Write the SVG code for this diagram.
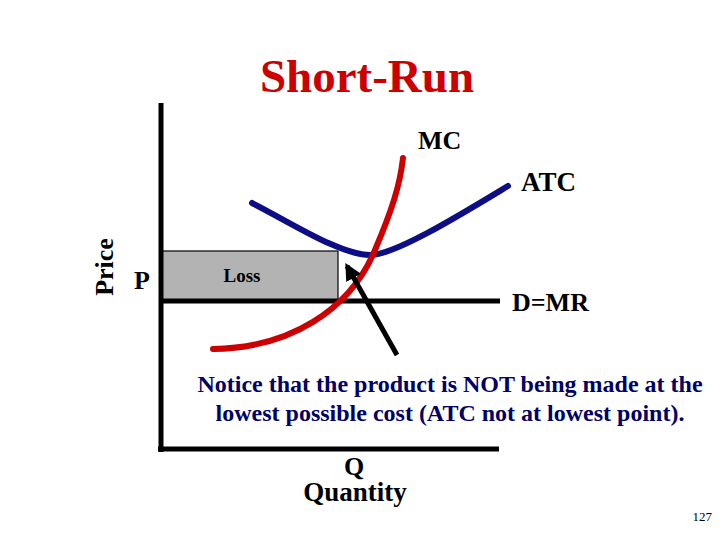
<svg xmlns="http://www.w3.org/2000/svg" width="720" height="540" viewBox="0 0 720 540">
<style>
text{font-family:"Liberation Serif","Times New Roman",serif;font-weight:bold;fill:#000}
.ax{stroke:#000;stroke-width:5;fill:none}
.curve{fill:none;stroke-width:6;stroke-linecap:round}
</style>
<defs>
<marker id="ah" viewBox="0 0 10 10" refX="8" refY="5" markerWidth="3.4" markerHeight="3.4" orient="auto" markerUnits="strokeWidth">
<path d="M0,0 L10,5 L0,10 z" fill="#000"/>
</marker>
</defs>
<rect width="720" height="540" fill="#fff"/>
<text x="367" y="92" font-size="47" text-anchor="middle" style="fill:#cc0000">Short-Run</text>
<g id="loss">
<rect x="162" y="251" width="176" height="50" fill="#b3b3b3" stroke="#000" stroke-width="1.2"/>
<text x="242" y="282" font-size="19" text-anchor="middle">Loss</text>
</g>
<g id="axes">
<line class="ax" x1="161" y1="103" x2="161" y2="452"/>
<line class="ax" x1="158" y1="449" x2="499" y2="449"/>
<text transform="translate(113,267) rotate(-90)" font-size="26" text-anchor="middle">Price</text>
<text x="354" y="475" font-size="26" text-anchor="middle">Q</text>
<text x="355" y="501" font-size="27" text-anchor="middle">Quantity</text>
</g>
<g id="dmr">
<line class="ax" x1="160" y1="301" x2="500" y2="301"/>
<text x="512" y="311" font-size="26">D=MR</text>
</g>
<text id="p-label" x="134" y="289" font-size="26">P</text>
<g id="atc">
<path class="curve" stroke="#0d0d85" d="M252,203 C290,222 340,255 370,255 C395,255 460,215 508,186"/>
<text x="521" y="191" font-size="27">ATC</text>
</g>
<g id="mc">
<path class="curve" stroke="#cc0000" d="M213,349 C290,348 350,310 375,250 C392,210 400,185 403,158"/>
<text x="418" y="149" font-size="26">MC</text>
</g>
<g id="connectors">
<line x1="397" y1="355" x2="347" y2="266" stroke="#000" stroke-width="5" marker-end="url(#ah)"/>
</g>
<g id="note" font-size="24">
<text x="450" y="392" text-anchor="middle" style="fill:#000066">Notice that the product is NOT being made at the</text>
<text x="450" y="421" text-anchor="middle" style="fill:#000066">lowest possible cost (ATC not at lowest point).</text>
</g>
<text x="712" y="521" font-size="13" text-anchor="end" style="font-weight:normal">127</text>
</svg>
